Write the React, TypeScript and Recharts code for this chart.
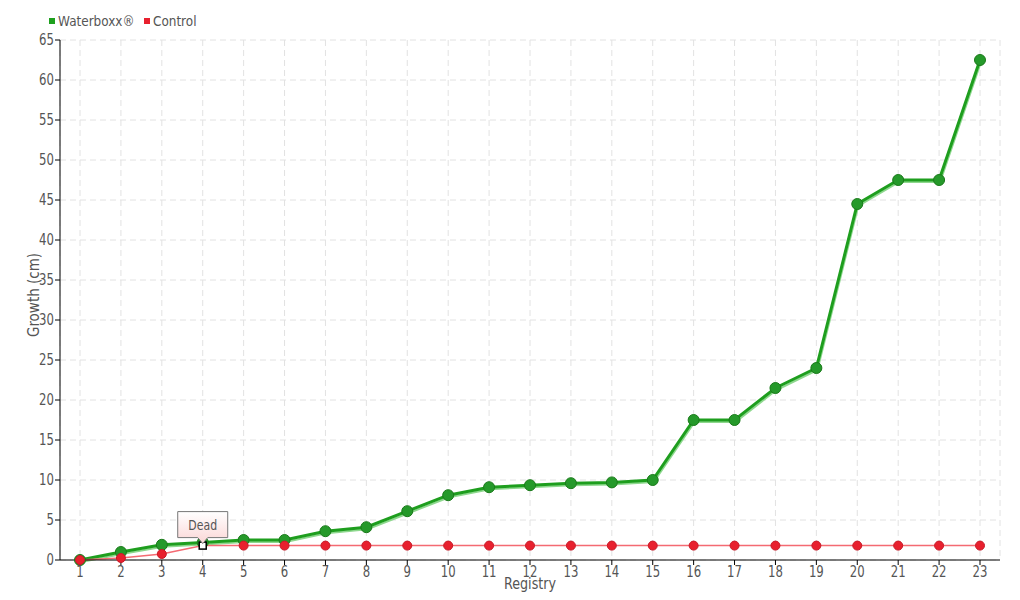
import React from "react";
import { LineChart, Line, XAxis, YAxis, CartesianGrid, Legend } from "recharts";

const registry = ["1","2","3","4","5","6","7","8","9","10","11","12","13","14","15","16","17","18","19","20","21","22","23"];
const waterboxx = [0, 1, 1.9, 2.2, 2.5, 2.5, 3.6, 4.1, 6.1, 8.1, 9.1, 9.35, 9.6, 9.7, 10, 17.5, 17.5, 21.5, 24, 44.5, 47.5, 47.5, 62.5];
const control = [0, 0.25, 0.75, 1.8, 1.8, 1.8, 1.8, 1.8, 1.8, 1.8, 1.8, 1.8, 1.8, 1.8, 1.8, 1.8, 1.8, 1.8, 1.8, 1.8, 1.8, 1.8, 1.8];
const yTicks = [0, 5, 10, 15, 20, 25, 30, 35, 40, 45, 50, 55, 60, 65];
const deadIndex = 3;
const deadLabel = "Dead";
const xTitle = "Registry";
const yTitle = "Growth (cm)";

const data = registry.map((r, i) => ({ registry: r, waterboxx: waterboxx[i], control: control[i] }));

const FONT = "'DejaVu Sans', sans-serif";
const TEXT = "#555";
const SX = 0.78;

const NarrowText = ({ x, y, anchor, size, children, rotate, sx }: any) => (
  <text
    transform={`translate(${x},${y})${rotate ? ` rotate(${rotate})` : ""} scale(${sx ?? SX},1)`}
    textAnchor={anchor}
    fill={TEXT}
    fontSize={size}
    fontFamily={FONT}
  >
    {children}
  </text>
);

const XTick = (props: any) => {
  const { x, y, payload } = props;
  return <NarrowText x={x} y={y + 10} anchor="middle" size={15}>{payload.value}</NarrowText>;
};

const YTick = (props: any) => {
  const { x, y, payload } = props;
  return <NarrowText x={x + 1} y={y + 5} anchor="end" size={15}>{payload.value}</NarrowText>;
};

const XTitle = (props: any) => {
  const { viewBox } = props;
  return <NarrowText x={viewBox.x + viewBox.width / 2} y={589} anchor="middle" size={15} sx={0.85}>{xTitle}</NarrowText>;
};

const YTitle = (props: any) => {
  const { viewBox } = props;
  return <NarrowText x={39} y={viewBox.y + viewBox.height / 2 - 5} anchor="middle" size={15} sx={0.9} rotate={-90}>{yTitle}</NarrowText>;
};

const ControlDot = (props: any) => {
  const { cx, cy, index } = props;
  if (index === deadIndex) {
    return <rect key={`d${index}`} x={cx - 3.5} y={cy - 3.5} width={7} height={7} fill="#fff" stroke="#000" strokeWidth={1.5} />;
  }
  return <circle key={`d${index}`} cx={cx} cy={cy} r={4.5} fill="#e8202e" stroke="#c81a28" strokeWidth={1} />;
};

const DeadLabel = (props: any) => {
  const { x, y, index } = props;
  if (index !== deadIndex) return null;
  const w = 50, h = 26;
  const left = x - 25, top = y - 34;
  return (
    <g>
      <defs>
        <linearGradient id="deadGrad" x1="0" y1="0" x2="0" y2="1">
          <stop offset="0%" stopColor="#ffffff" />
          <stop offset="100%" stopColor="#fbd6d6" />
        </linearGradient>
      </defs>
      <path
        d={`M${left},${top} h${w} v${h} h-${w / 2 - 5} l-5,6 l-5,-6 h-${w / 2 - 5} z`}
        fill="url(#deadGrad)"
        stroke="#777"
        strokeWidth={1}
      />
      <NarrowText x={x} y={top + 18} anchor="middle" size={14}>{deadLabel}</NarrowText>
    </g>
  );
};

const LegendContent = () => (
  <div style={{ display: "flex", fontFamily: FONT, fontSize: 14, color: TEXT, alignItems: "center" }}>
    <span style={{ display: "inline-block", width: 6, height: 6, background: "#1ea01e", marginRight: 3 }} />
    <span style={{ marginRight: 6, display: "inline-block", transform: `scaleX(0.86)`, transformOrigin: "left" }}>Waterboxx®</span>
    <span style={{ display: "inline-block", width: 6, height: 6, background: "#e8202e", marginRight: 3, marginLeft: -9 }} />
    <span style={{ display: "inline-block", transform: `scaleX(0.86)`, transformOrigin: "left" }}>Control</span>
  </div>
);

export default function App() {
  return (
    <div style={{ position: "absolute", left: 0, top: 0, width: 1020, height: 600, background: "#fff" }}>
      <style>{`.wb-shadow path { transform: translate(1px, 2px); }`}</style>
      <LineChart width={1020} height={600} data={data} margin={{ top: 22, right: 20, bottom: 10, left: 0 }}>
        <CartesianGrid stroke="#e2e2e2" strokeDasharray="6 4" />
        <XAxis
          dataKey="registry"
          height={30}
          padding={{ left: 20, right: 20 }}
          stroke="#000"
          tickLine={{ stroke: "#000" }}
          tickSize={5}
          interval={0}
          tick={XTick as any}
          label={{ content: XTitle as any }}
        />
        <YAxis
          width={60}
          domain={[0, 65]}
          ticks={yTicks}
          interval={0}
          stroke="#000"
          tickSize={5}
          tick={YTick as any}
          label={{ content: YTitle as any }}
        />
        <Legend verticalAlign="top" align="left" content={LegendContent as any} wrapperStyle={{ position: "absolute", top: 13, left: 49, width: "auto", height: 18 }} />
        <Line
          className="wb-shadow"
          type="linear"
          dataKey="waterboxx"
          legendType="none"
          stroke="#8ed88e"
          strokeWidth={2}
          dot={false}
          activeDot={false}
          isAnimationActive={false}
        />
        <Line
          type="linear"
          dataKey="waterboxx"
          name="Waterboxx®"
          stroke="#1e9e1e"
          strokeWidth={3}
          dot={{ r: 5.5, fill: "#25992a", stroke: "#1a7a1a", strokeWidth: 1 }}
          isAnimationActive={false}
        />
        <Line
          type="linear"
          dataKey="control"
          name="Control"
          stroke="#f46a72"
          strokeWidth={1.5}
          dot={ControlDot as any}
          label={DeadLabel as any}
          isAnimationActive={false}
        />
      </LineChart>
    </div>
  );
}
